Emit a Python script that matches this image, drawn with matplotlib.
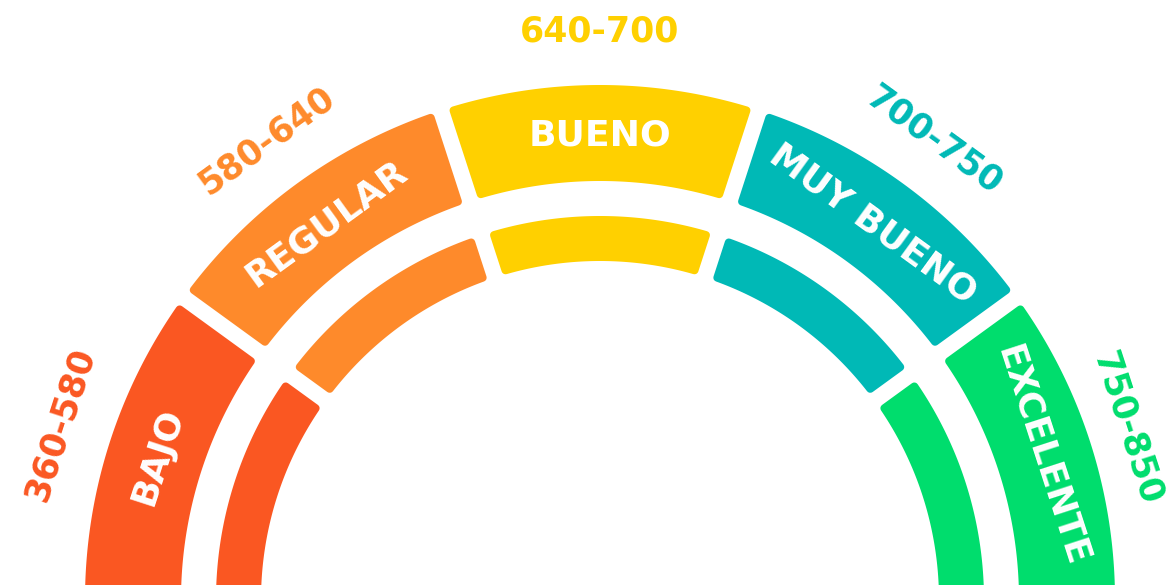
import numpy as np
import matplotlib
matplotlib.use("Agg")
import matplotlib.pyplot as plt
from matplotlib.patches import Polygon

categories = ["BAJO", "REGULAR", "BUENO", "MUY BUENO", "EXCELENTE"]
ranges = ["360-580", "580-640", "640-700", "700-750", "750-850"]
colors = ["#FA5722", "#FE8A2B", "#FFD000", "#00B9B6", "#00DD6D"]

W, H = 1170, 585
fig = plt.figure(figsize=(W / 100, H / 100), dpi=100)
ax = fig.add_axes([0, 0, 1, 1])
ax.set_xlim(0, W)
ax.set_ylim(H, 0)
ax.axis("off")

cx, cy = 600, 600
rings = [(515, 419), (384, 339)]   # (outer, inner) radii in px
gap_half = 8
rc = 4  # corner rounding

n = len(categories)
step = 180.0 / n


def seg_poly(a_hi, a_lo, r_out, r_in, h):
    pts = []
    ro, ri = r_out - rc, r_in + rc
    hh = h + rc
    t0 = np.radians(a_hi) - np.arcsin(hh / ro)
    t1 = np.radians(a_lo) + np.arcsin(hh / ro)
    for t in np.linspace(t0, t1, 80):
        pts.append((cx + ro * np.cos(t), cy - ro * np.sin(t)))
    t2 = np.radians(a_lo) + np.arcsin(hh / ri)
    t3 = np.radians(a_hi) - np.arcsin(hh / ri)
    for t in np.linspace(t2, t3, 80):
        pts.append((cx + ri * np.cos(t), cy - ri * np.sin(t)))
    return pts


renderer = fig.canvas.get_renderer()
for i, (cat, rng, col) in enumerate(zip(categories, ranges, colors)):
    a_hi = 180 - step * i
    a_lo = 180 - step * (i + 1)
    for (ro, ri) in rings:
        poly = Polygon(seg_poly(a_hi, a_lo, ro, ri, gap_half), closed=True,
                       facecolor=col, edgecolor=col, linewidth=2 * rc * 0.72,
                       joinstyle="round")
        ax.add_patch(poly)
    mid = (a_hi + a_lo) / 2
    t = np.radians(mid)
    rl = (rings[0][0] + rings[0][1]) / 2 - 2
    ax.text(cx + rl * np.cos(t), cy - rl * np.sin(t), cat, rotation=mid - 90,
            rotation_mode="anchor", ha="center", va="center", color="white",
            fontsize=26, fontweight="bold", family="DejaVu Sans")
    rr = 568
    txt = ax.text(cx + rr * np.cos(t), cy - rr * np.sin(t), rng,
                  rotation=mid - 90, rotation_mode="anchor", ha="center",
                  va="center", color=col, fontsize=25, fontweight="bold",
                  family="DejaVu Sans")
    # pull the label inward until it fits inside the canvas
    for _ in range(40):
        bb = txt.get_window_extent(renderer)
        if bb.x0 >= 2 and bb.x1 <= W - 2 and bb.y1 <= H - 2:
            break
        rr -= 1
        txt.set_position((cx + rr * np.cos(t), cy - rr * np.sin(t)))

fig.savefig("out.png", dpi=100, facecolor="white")
